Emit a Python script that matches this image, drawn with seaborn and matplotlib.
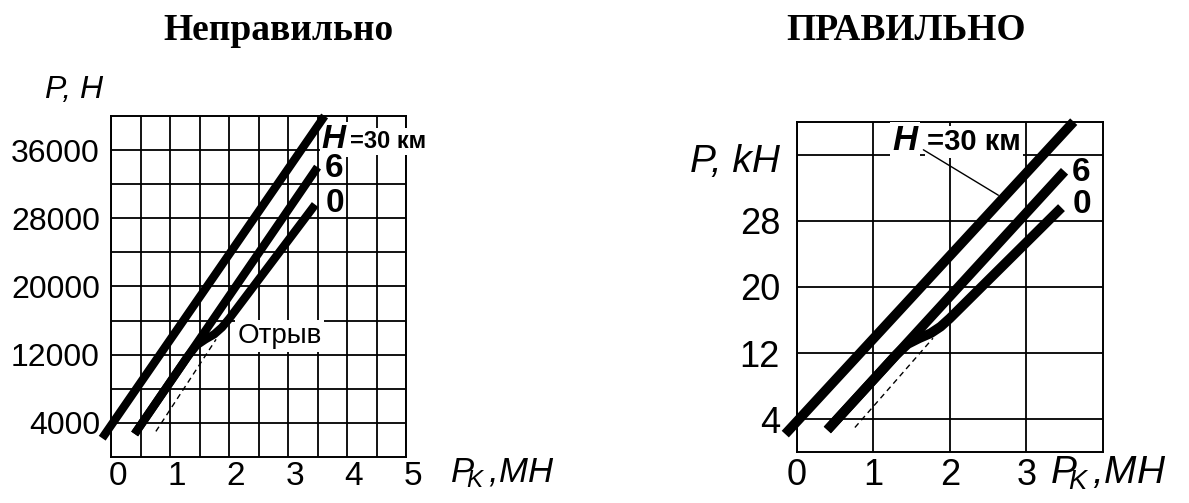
import numpy as np
import pandas as pd
import matplotlib
matplotlib.use("Agg")
import matplotlib.pyplot as plt
import seaborn as sns
from matplotlib.transforms import ScaledTranslation

# ---- data (P in kN, Pk in MN) ----
pk_h30 = [-0.15, 3.62]
p_h30 = [2.2, 40.0]
pk_h6 = [0.40, 3.50]
p_h6 = [2.7, 34.0]
pk_h0 = [0.40, 1.30, 1.45, 1.60, 1.75, 1.88, 2.00, 3.46]
p_h0 = [2.7, 11.8, 13.1, 13.8, 14.4, 15.2, 16.2, 29.6]
pk_sep = [0.76, 1.78]
p_sep = [3.0, 13.8]

left_xticks = [0, 1, 2, 3, 4, 5]
left_yticks = [4000, 12000, 20000, 28000, 36000]
right_xticks = [0, 1, 2, 3]
right_yticks = [4, 12, 20, 28]

sns.set_style("white")
plt.rcParams["font.family"] = ["Liberation Sans", "DejaVu Sans"]
plt.rcParams["text.color"] = "black"
plt.rcParams["xtick.color"] = "black"
plt.rcParams["ytick.color"] = "black"
plt.rcParams["axes.labelcolor"] = "black"
plt.rcParams["mathtext.fontset"] = "custom"
plt.rcParams["mathtext.it"] = "Liberation Sans:italic"
plt.rcParams["mathtext.rm"] = "Liberation Sans:italic"

fig = plt.figure(figsize=(11.89, 5.03), dpi=100)
axL = fig.add_axes([0.0934, 0.0915, 0.2481, 0.678])
axR = fig.add_axes([0.6701, 0.1008, 0.2574, 0.6573])


def curves(scale):
    frames = []
    for name, xs, ys in [("30", pk_h30, p_h30), ("6", pk_h6, p_h6), ("0", pk_h0, p_h0)]:
        frames.append(pd.DataFrame({"pk": xs, "p": np.array(ys) * scale, "H": name}))
    return pd.concat(frames, ignore_index=True)


def draw(ax, scale, lw):
    df = curves(scale)
    for name, sub in df.groupby("H", sort=False):
        sns.lineplot(data=sub, x="pk", y="p", ax=ax, color="black", linewidth=lw,
                     estimator=None, sort=False, solid_capstyle="butt",
                     solid_joinstyle="round", clip_on=False, zorder=5, legend=False)
    sep = pd.DataFrame({"pk": pk_sep, "p": np.array(p_sep) * scale})
    sns.lineplot(data=sep, x="pk", y="p", ax=ax, color="black", linewidth=1.0,
                 estimator=None, sort=False, zorder=5, legend=False)
    ax.lines[-1].set_dashes((4, 3))
    ax.set_xlabel("")
    ax.set_ylabel("")
    for s in ax.spines.values():
        s.set_visible(True)
        s.set_color("black")
        s.set_linewidth(1.4)
    ax.set_axisbelow(True)


# ---------------- left panel ----------------
draw(axL, 1000, 6)
axL.set_xlim(0, 5)
axL.set_ylim(0, 40000)
axL.set_xticks(left_xticks)
axL.set_xticklabels([str(v) for v in left_xticks])
axL.set_xticks(np.arange(0.5, 5, 1.0), minor=True)
axL.set_yticks(left_yticks)
axL.set_yticklabels([str(v) for v in left_yticks])
axL.set_yticks([8000, 16000, 24000, 32000], minor=True)
axL.grid(True, which="both", color="black", linewidth=1.3)
axL.tick_params(axis="both", which="both", length=0)
axL.tick_params(axis="x", labelsize=24, pad=3)
axL.tick_params(axis="y", labelsize=23, pad=8)
for lab in axL.get_xticklabels():
    lab.set_transform(lab.get_transform() + ScaledTranslation(7 / 100, 0, fig.dpi_scale_trans))

bb = dict(facecolor="white", edgecolor="none", pad=1.5)
axL.text(3.57, 36250, "H", fontsize=24, fontweight="bold", fontstyle="italic",
         ha="left", va="baseline", bbox=bb, zorder=4)
axL.text(4.05, 36250, "=30 км", fontsize=17, fontweight="bold",
         ha="left", va="baseline", bbox=bb, zorder=4, clip_on=False)
axL.text(3.63, 33780, "6", fontsize=24, fontweight="bold", ha="left", va="center", zorder=6)
axL.text(3.63, 29730, "0", fontsize=24, fontweight="bold", ha="left", va="center", zorder=6)
axL.text(2.14, 14190, "Отрыв", fontsize=20, ha="left", va="center",
         bbox=dict(facecolor="white", edgecolor="none", pad=2), zorder=4)

# ---------------- right panel ----------------
draw(axR, 1, 7)
axR.set_xlim(0, 4)
axR.set_ylim(0, 40)
axR.set_xticks(right_xticks)
axR.set_xticklabels([str(v) for v in right_xticks])
axR.set_xticks([], minor=True)
axR.set_yticks(right_yticks)
axR.set_yticklabels([str(v) for v in right_yticks])
axR.set_yticks([36], minor=True)
axR.grid(True, which="both", color="black", linewidth=1.3)
axR.tick_params(axis="both", which="both", length=0)
axR.tick_params(axis="x", labelsize=26, pad=4)
axR.tick_params(axis="y", labelsize=26, pad=12)

axR.text(1.25, 36.6, "H", fontsize=25, fontweight="bold", fontstyle="italic",
         ha="left", va="baseline", bbox=bb, zorder=4)
axR.text(1.70, 36.6, "=30 км", fontsize=21, fontweight="bold",
         ha="left", va="baseline", bbox=bb, zorder=4)
axR.plot([1.655, 2.635], [36.6, 31.1], color="black", linewidth=1.0, zorder=4)
axR.text(3.60, 33.9, "6", fontsize=24, fontweight="bold", ha="left", va="center", zorder=6)
axR.text(3.60, 30.0, "0", fontsize=24, fontweight="bold", ha="left", va="center", zorder=6)

# ---------------- titles and axis labels ----------------
serif = ["Liberation Serif", "DejaVu Serif"]
fig.text(278 / 1189, 1 - 30 / 503, "Неправильно", family=serif, fontsize=27,
         fontweight="bold", ha="center", va="center")
fig.text(906 / 1189, 1 - 30 / 503, "ПРАВИЛЬНО", family=serif, fontsize=27,
         fontweight="bold", ha="center", va="center")

fig.text(45 / 1189, 1 - 98 / 503, "P, H", fontsize=23, fontstyle="italic",
         ha="left", va="baseline")
fig.text(780 / 1189, 1 - 172 / 503, "P, kH", fontsize=28, fontstyle="italic",
         ha="right", va="baseline")

# x-axis labels P_K ,MH
fig.text(450 / 1189, 1 - 482 / 503, r"$P_{\!\!K}\,$,MH", fontsize=25, fontstyle="italic",
         ha="left", va="baseline")
fig.text(1050 / 1189, 1 - 484 / 503, r"$P_{\!\!K}\,$,MH", fontsize=28, fontstyle="italic",
         ha="left", va="baseline")

fig.savefig("out.png", dpi=100, facecolor="white")
